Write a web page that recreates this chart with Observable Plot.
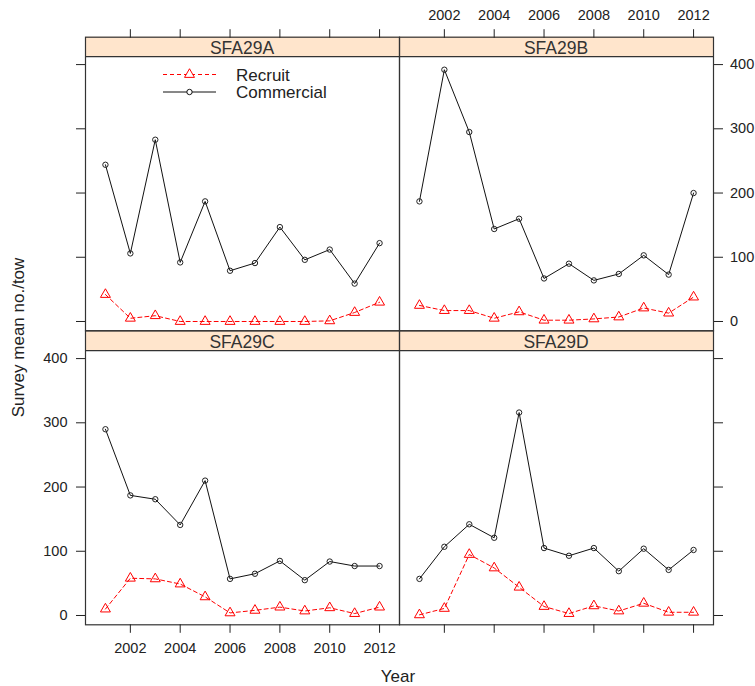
<!DOCTYPE html>
<html><head><meta charset="utf-8">
<script src="https://cdn.jsdelivr.net/npm/d3@7"></script>
<script src="https://cdn.jsdelivr.net/npm/@observablehq/plot@0.6"></script>
<style>
body{margin:0;background:#fff;}
#chart{position:relative;width:755px;height:686px;font-family:"Liberation Sans",Arial,sans-serif;overflow:hidden;}
#chart svg{position:absolute;left:0;top:0;}
</style></head><body><div id="chart"></div>
<script>
const years = [2001,2002,2003,2004,2005,2006,2007,2008,2009,2010,2011,2012];
const areas = ["SFA29A","SFA29B","SFA29C","SFA29D"];
const seriesNames = ["Recruit","Commercial"];
const xTicks = [2002,2004,2006,2008,2010,2012];
const yTicks = [0,100,200,300,400];

const commercialA = [244,106,283,92,187,79,91,147,96,112,59,122];
const recruitA    = [42,5,9,0,0,0,0,0,0,1,14,30];
const commercialB = [187,392,295,144,160,67,90,64,74,103,73,200];
const recruitB    = [25,17,17,5,15,2,2,4,7,21,13,38];
const commercialC = [290,187,181,141,210,57,65,85,55,84,77,77];
const recruitC    = [10,58,57,49,29,4,8,13,7,12,3,13];
const commercialD = [57,107,142,121,316,105,93,105,69,104,71,102];
const recruitD    = [1,11,95,74,44,14,3,15,7,19,5,5];

const seriesByArea = {
  SFA29A: {Recruit: recruitA, Commercial: commercialA},
  SFA29B: {Recruit: recruitB, Commercial: commercialB},
  SFA29C: {Recruit: recruitC, Commercial: commercialC},
  SFA29D: {Recruit: recruitD, Commercial: commercialD}
};
const rows = [];
for (const area of areas) for (const s of seriesNames)
  seriesByArea[area][s].forEach((v, i) => rows.push({area, series: s, year: years[i], value: v}));

// layout
const W = 755, H = 686;
const cols = [[85, 399], [399, 713]];
const rowsL = [{top: 36.7, panelTop: 56.7, bottom: 330.3}, {top: 330.3, panelTop: 350.7, bottom: 624.3}];
const panels = [
  {area: "SFA29A", col: 0, row: 0, xAxis: "top", xLab: false, yAxis: "left", yLab: false},
  {area: "SFA29B", col: 1, row: 0, xAxis: "top", xLab: true, yAxis: "right", yLab: true},
  {area: "SFA29C", col: 0, row: 1, xAxis: "bottom", xLab: true, yAxis: "left", yLab: true},
  {area: "SFA29D", col: 1, row: 1, xAxis: "bottom", xLab: false, yAxis: "right", yLab: false}
];
const FONT = "'Liberation Sans', Arial, sans-serif";
const chart = document.getElementById("chart");

// strips (under plots)
const under = d3.select(chart).append("svg").attr("width", W).attr("height", H);
for (const p of panels) {
  const c = cols[p.col], r = rowsL[p.row];
  under.append("rect").attr("x", c[0]).attr("y", r.top).attr("width", c[1] - c[0]).attr("height", r.panelTop - r.top)
    .attr("fill", "#FFE5CC");
  under.append("line").attr("x1", c[0]).attr("x2", c[1]).attr("y1", r.panelTop).attr("y2", r.panelTop)
    .attr("stroke", "#333").attr("stroke-width", 1.2);
  under.append("text").attr("x", (c[0] + c[1]) / 2).attr("y", r.panelTop - 2.4)
    .attr("text-anchor", "middle").attr("font-family", FONT).attr("font-size", 17.5).attr("fill", "#333")
    .text(p.area);
}

for (const p of panels) {
  const c = cols[p.col], r = rowsL[p.row];
  const data = rows.filter(d => d.area === p.area);
  const rec = data.filter(d => d.series === "Recruit");
  const com = data.filter(d => d.series === "Commercial");
  const plot = Plot.plot({
    width: W, height: H,
    marginLeft: c[0], marginRight: W - c[1], marginTop: r.top, marginBottom: H - r.bottom,
    style: `background: transparent; overflow: visible; max-width: none; color: #222; font-family: ${FONT}; font-size: 14.5px;`,
    x: {domain: [2000.2, 2012.8]},
    y: {domain: [-14.5, 411.5], range: [r.bottom, r.panelTop]},
    marks: [
      Plot.frame({stroke: "#333", strokeWidth: 1.2}),
      Plot.axisX({anchor: p.xAxis, ticks: xTicks, tickSize: 8.5, tickPadding: p.xAxis === "top" ? 8.5 : 9,
        tickFormat: p.xLab ? (d => String(d)) : (() => ""), label: null, fontSize: 14.5}),
      Plot.axisY({anchor: p.yAxis, ticks: yTicks, tickSize: 9, tickPadding: p.yAxis === "left" ? 9 : 7.5,
        tickFormat: p.yLab ? (d => String(d)) : (() => ""), label: null, fontSize: 14.5}),
      Plot.line(rec, {x: "year", y: "value", stroke: "#FF0000", strokeWidth: 1, strokeDasharray: "4,3"}),
      Plot.dot(rec, {x: "year", y: "value", symbol: "triangle", r: 3.7, stroke: "#FF0000", fill: "none", strokeWidth: 1}),
      Plot.line(com, {x: "year", y: "value", stroke: "#111", strokeWidth: 1}),
      Plot.dot(com, {x: "year", y: "value", r: 2.7, stroke: "#222", fill: "none", strokeWidth: 1})
    ]
  });
  chart.appendChild(plot);
}

// overlay: legend and axis titles
const over = d3.select(chart).append("svg").attr("width", W).attr("height", H);
const leg = [
  {name: "Recruit", y: 74.5, color: "#FF0000", dash: "4,3", sym: d3.symbolTriangle, r: 3.7},
  {name: "Commercial", y: 92, color: "#111", dash: null, sym: d3.symbolCircle, r: 2.7}
];
for (const l of leg) {
  over.append("line").attr("x1", 163).attr("x2", 216).attr("y1", l.y).attr("y2", l.y)
    .attr("stroke", l.color).attr("stroke-dasharray", l.dash);
  over.append("path").attr("transform", `translate(189.5,${l.y})`)
    .attr("d", d3.symbol(l.sym, Math.PI * l.r * l.r)()).attr("fill", "white").attr("stroke", l.color);
  over.append("text").attr("x", 236).attr("y", l.y + 6.3).attr("font-family", FONT).attr("font-size", 17)
    .attr("fill", "#222").text(l.name);
}
over.append("text").attr("x", 398).attr("y", 682).attr("text-anchor", "middle").attr("font-family", FONT)
  .attr("font-size", 17).attr("fill", "#222").text("Year");
over.append("text").attr("transform", "translate(24,337.5) rotate(-90)").attr("text-anchor", "middle")
  .attr("font-family", FONT).attr("font-size", 17).attr("fill", "#222").text("Survey mean no./tow");
</script>
</body></html>
